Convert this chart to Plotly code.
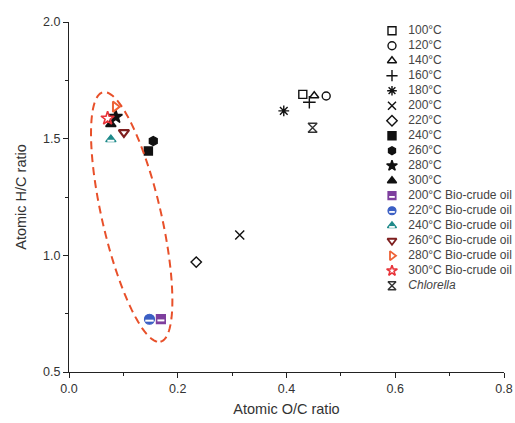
import numpy as np
import plotly.graph_objects as go

# ---------------- data ----------------
labels = ["100°C", "120°C", "140°C", "160°C", "180°C", "200°C", "220°C", "240°C",
          "260°C", "280°C", "300°C",
          "200°C Bio-crude oil", "220°C Bio-crude oil", "240°C Bio-crude oil",
          "260°C Bio-crude oil", "280°C Bio-crude oil", "300°C Bio-crude oil",
          "<i>Chlorella</i>"]
oc_ratio = [0.430, 0.473, 0.451, 0.442, 0.395, 0.314, 0.234, 0.146,
            0.155, 0.086, 0.077,
            0.169, 0.148, 0.077, 0.101, 0.085, 0.071,
            0.448]
hc_ratio = [1.690, 1.683, 1.684, 1.656, 1.619, 1.087, 0.971, 1.447,
            1.490, 1.594, 1.562,
            0.727, 0.726, 1.497, 1.527, 1.637, 1.587,
            1.547]
x_ticks = [0.0, 0.2, 0.4, 0.6, 0.8]
y_ticks = [0.5, 1.0, 1.5, 2.0]

# ---------------- styles ----------------
symbols = ["square-open", "circle-open", "triangle-up-open", "cross-thin-open",
           "asterisk-open", "x-thin-open", "diamond-open", "square", "hexagon",
           "star", "triangle-up",
           "square", "circle", "triangle-up", "triangle-down-open",
           "triangle-right-open", "star-open", "hourglass-open"]
colors = ["#111111"] * 11 + ["#7E3F9E", "#3B5FC4", "#1F8A8A", "#7E1E1E",
                             "#EE6236", "#E8343A", "#333333"]
stripe = [False] * 11 + [True, True, True, False, False, False, False]
line_w = [1.4] * 11 + [1.2, 1.2, 1.2, 2.2, 2.0, 1.6, 1.4]
sizes = [8, 8, 8, 9, 9, 9, 8, 8, 9, 10, 9, 9, 10, 9, 9, 9, 10, 9]

W, H = 515, 423
ml, mr, mt, mb = 69, 11, 22, 51
x_rng = [0, 0.8]
y_rng = [0.5, 2.0]
px_x = (W - ml - mr) / (x_rng[1] - x_rng[0])
px_y = (H - mt - mb) / (y_rng[1] - y_rng[0])

fig = go.Figure()

# main scatter points
for i, lab in enumerate(labels):
    fig.add_trace(go.Scatter(
        x=[oc_ratio[i]], y=[hc_ratio[i]], mode="markers", name=lab,
        showlegend=False,
        marker=dict(symbol=symbols[i], size=sizes[i], color=colors[i],
                    line=dict(color=colors[i], width=line_w[i]))))
    if stripe[i]:
        fig.add_trace(go.Scatter(
            x=[oc_ratio[i]], y=[hc_ratio[i] - 0.006], mode="markers",
            showlegend=False, hoverinfo="skip",
            marker=dict(symbol="line-ew", size=sizes[i] - 4,
                        line=dict(color="white", width=2))))

# custom legend (drawn on an overlay axis)
leg_x_marker = 0.594
leg_x_text = 0.624
rows = list(range(len(labels)))
for i, lab in enumerate(labels):
    fig.add_trace(go.Scatter(
        x=[leg_x_marker], y=[rows[i]], xaxis="x2", yaxis="y2", mode="markers",
        showlegend=False, hoverinfo="skip",
        marker=dict(symbol=symbols[i], size=8, color=colors[i],
                    line=dict(color=colors[i], width=min(line_w[i], 1.8)))))
    if stripe[i]:
        fig.add_trace(go.Scatter(
            x=[leg_x_marker], y=[rows[i] + 0.08], xaxis="x2", yaxis="y2",
            mode="markers", showlegend=False, hoverinfo="skip",
            marker=dict(symbol="line-ew", size=4,
                        line=dict(color="white", width=1.8))))
fig.add_trace(go.Scatter(
    x=[leg_x_text] * len(labels), y=rows, xaxis="x2", yaxis="y2",
    mode="text", text=labels, textposition="middle right",
    textfont=dict(size=12, color="#444444", family="Liberation Sans, Arial"),
    showlegend=False, hoverinfo="skip", cliponaxis=False))

# dashed ellipse around bio-crude oils
e_cx, e_cy = 0.1153, 1.1643      # data coords of centre
e_a, e_b, e_theta = 128, 29.5, np.deg2rad(13)   # pixel semi-axes, tilt
t = np.linspace(0, 2 * np.pi, 121)
dpx = e_a * np.cos(t) * np.sin(e_theta) + e_b * np.sin(t) * np.cos(e_theta)
dpy = e_a * np.cos(t) * np.cos(e_theta) - e_b * np.sin(t) * np.sin(e_theta)
ex = e_cx + dpx / px_x
ey = e_cy - dpy / px_y
path = "M " + " L ".join(f"{a:.5f},{b:.5f}" for a, b in zip(ex, ey)) + " Z"
fig.add_shape(type="path", path=path, xref="x", yref="y",
              line=dict(color="#E8502A", width=2, dash="8px,5px"))

axis_font = dict(family="Liberation Sans, Arial", size=12.5, color="#333333")
fig.update_layout(
    width=W, height=H,
    margin=dict(l=ml, r=mr, t=mt, b=mb, autoexpand=False),
    plot_bgcolor="white", paper_bgcolor="white",
    font=dict(family="Liberation Sans, Arial"),
    xaxis=dict(range=x_rng, tickvals=x_ticks, ticktext=[f"{v:.1f}" for v in x_ticks],
               showgrid=False, zeroline=False, showline=True, linecolor="#222222",
               linewidth=1.2, ticks="outside", ticklen=5, tickcolor="#222222",
               tickfont=axis_font, automargin=False,
               minor=dict(dtick=0.1, tick0=0, ticks="outside", ticklen=3,
                          tickcolor="#222222", showgrid=False),
               title=dict(text="Atomic O/C ratio",
                          font=dict(size=14.5, color="#333333"), standoff=8)),
    yaxis=dict(range=y_rng, tickvals=y_ticks, ticktext=[f"{v:.1f}" for v in y_ticks],
               showgrid=False, zeroline=False, showline=True, linecolor="#222222",
               linewidth=1.2, ticks="outside", ticklen=5, tickcolor="#222222",
               tickfont=axis_font, automargin=False,
               minor=dict(dtick=0.25, tick0=0.5, ticks="outside", ticklen=3,
                          tickcolor="#222222", showgrid=False),
               title=dict(text="Atomic H/C ratio",
                          font=dict(size=14.5, color="#333333"), standoff=12)),
    xaxis2=dict(domain=[0, 1], range=x_rng, overlaying="x", visible=False,
                fixedrange=True),
    yaxis2=dict(domain=[0, 1], range=[22.75, -0.58], overlaying="y", visible=False,
                fixedrange=True),
    showlegend=False,
)

fig.write_html("out.html",
               config={"displayModeBar": False},
               post_script="document.body.style.margin='0';"
                           "document.body.style.overflow='hidden';")
